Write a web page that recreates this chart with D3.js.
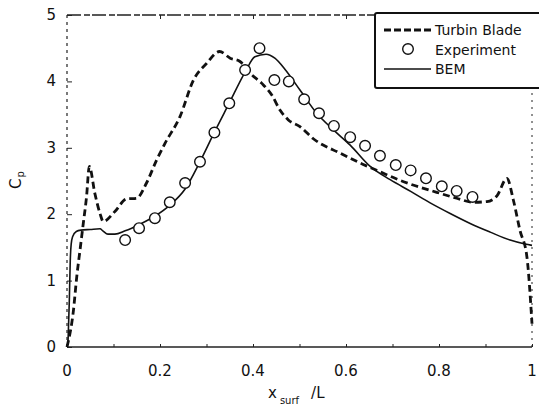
<!DOCTYPE html>
<html>
<head>
<meta charset="utf-8">
<script src="https://cdn.jsdelivr.net/npm/d3@7"></script>
<style>
  body { margin: 0; background: #fff; }
  svg { display: block; font-family: "DejaVu Sans", sans-serif; }
</style>
</head>
<body>
<svg id="chart" width="539" height="409"></svg>
<script>
// Turbin Blade (dashed)
const bladeX = [0.0, 0.014, 0.021, 0.028, 0.035, 0.042, 0.048, 0.060, 0.071, 0.078, 0.103, 0.128, 0.150, 0.171, 0.193, 0.211, 0.243, 0.272, 0.300, 0.328, 0.351, 0.372, 0.394, 0.419, 0.440, 0.458, 0.476, 0.501, 0.529, 0.587, 0.637, 0.673, 0.709, 0.744, 0.795, 0.838, 0.874, 0.903, 0.925, 0.946, 0.960, 0.974, 0.989, 1.0];
const bladeY = [0.0, 0.56, 1.06, 1.46, 1.86, 2.26, 2.72, 2.31, 2.01, 1.89, 2.04, 2.23, 2.24, 2.47, 2.82, 3.07, 3.47, 4.02, 4.27, 4.45, 4.35, 4.30, 4.12, 3.97, 3.80, 3.57, 3.42, 3.32, 3.14, 2.92, 2.75, 2.64, 2.53, 2.44, 2.33, 2.24, 2.18, 2.19, 2.28, 2.54, 2.21, 1.76, 1.36, 0.35];

// Experiment (circles)
const expX = [0.125, 0.155, 0.189, 0.221, 0.254, 0.286, 0.317, 0.349, 0.383, 0.414, 0.446, 0.477, 0.510, 0.542, 0.574, 0.609, 0.641, 0.673, 0.707, 0.739, 0.772, 0.806, 0.838, 0.872];
const expY = [1.61, 1.79, 1.94, 2.18, 2.47, 2.79, 3.23, 3.67, 4.17, 4.50, 4.02, 4.00, 3.73, 3.52, 3.33, 3.16, 3.03, 2.88, 2.74, 2.66, 2.54, 2.42, 2.35, 2.26];

// BEM (solid)
const bemX = [0.002, 0.005, 0.007, 0.009, 0.012, 0.020, 0.030, 0.050, 0.071, 0.077, 0.088, 0.103, 0.125, 0.157, 0.189, 0.222, 0.254, 0.286, 0.316, 0.348, 0.383, 0.404, 0.428, 0.447, 0.469, 0.501, 0.537, 0.573, 0.609, 0.652, 0.695, 0.740, 0.781, 0.824, 0.867, 0.910, 0.953, 0.985, 1.0];
const bemY = [0.03, 0.70, 1.30, 1.55, 1.66, 1.74, 1.76, 1.77, 1.78, 1.75, 1.70, 1.70, 1.75, 1.85, 1.97, 2.14, 2.38, 2.79, 3.22, 3.66, 4.14, 4.37, 4.41, 4.35, 4.18, 3.87, 3.52, 3.27, 3.04, 2.72, 2.52, 2.34, 2.17, 2.01, 1.86, 1.73, 1.61, 1.55, 1.53];

const xTicks = [0, 0.2, 0.4, 0.6, 0.8, 1];
const xTickLabels = ["0", "0.2", "0.4", "0.6", "0.8", "1"];
const yTicks = [0, 1, 2, 3, 4, 5];

const svg = d3.select("#chart");
const x = d3.scaleLinear().domain([0, 1]).range([67, 532]);
const y = d3.scaleLinear().domain([0, 5]).range([347, 15]);

// frame
const frame = svg.append("g").attr("stroke", "#222").attr("fill", "none");
frame.append("line").attr("x1", x(0)).attr("x2", x(1)).attr("y1", y(0)).attr("y2", y(0)).attr("stroke-width", 1.6);
frame.append("line").attr("x1", x(0)).attr("x2", x(1)).attr("y1", y(5)).attr("y2", y(5))
  .attr("stroke-width", 1.3).attr("stroke-dasharray", "14 3 6 2");
frame.append("line").attr("x1", x(0)).attr("x2", x(0)).attr("y1", y(0)).attr("y2", y(5))
  .attr("stroke-width", 1.2).attr("stroke-dasharray", "3 4");
frame.append("line").attr("x1", x(1)).attr("x2", x(1)).attr("y1", y(0)).attr("y2", y(5))
  .attr("stroke-width", 1).attr("stroke-dasharray", "2 5");

// ticks (inward)
const bottomAxis = svg.append("g").attr("transform", `translate(0,${y(0)})`)
  .call(d3.axisBottom(x).tickValues(d3.range(0, 1.01, 0.1)).tickSize(-3).tickFormat(""));
bottomAxis.select(".domain").remove();
bottomAxis.selectAll("line").attr("stroke", "#222");
const leftAxis = svg.append("g").attr("transform", `translate(${x(0)},0)`)
  .call(d3.axisLeft(y).tickValues(yTicks).tickSize(-5).tickFormat(""));
leftAxis.select(".domain").remove();
leftAxis.selectAll("line").attr("stroke", "#222");
const topAxis = svg.append("g").attr("transform", `translate(0,${y(5)})`)
  .call(d3.axisTop(x).tickValues([0.2, 0.4, 0.6, 0.8]).tickSize(-4).tickFormat(""));
topAxis.select(".domain").remove();
topAxis.selectAll("line").attr("stroke", "#222");

// tick labels
svg.append("g").selectAll("text").data(xTicks).join("text")
  .attr("x", d => x(d)).attr("y", 376)
  .attr("text-anchor", "middle").attr("font-size", 15).attr("fill", "#111")
  .text((d, i) => xTickLabels[i]);
svg.append("g").selectAll("text").data(yTicks).join("text")
  .attr("x", 56).attr("y", d => y(d) + 5)
  .attr("text-anchor", "end").attr("font-size", 15).attr("fill", "#111")
  .text(d => d);

// axis titles
const xl = svg.append("text").attr("x", 268).attr("y", 398).attr("font-size", 15).attr("fill", "#111");
xl.append("tspan").text("x");
xl.append("tspan").attr("font-size", 10).attr("dy", 6).attr("dx", 3).text("surf");
xl.append("tspan").attr("dy", -6).attr("dx", 12).text("/L");

const yl = svg.append("text").attr("transform", "translate(21,189) rotate(-90)")
  .attr("font-size", 15).attr("fill", "#111");
yl.append("tspan").text("C");
yl.append("tspan").attr("font-size", 10).attr("dy", 3).attr("dx", 1).text("p");

// series
const line = d3.line().x(d => x(d[0])).y(d => y(d[1])).curve(d3.curveMonotoneX);
svg.append("path").datum(bemX.map((v, i) => [v, bemY[i]]))
  .attr("d", line).attr("fill", "none").attr("stroke", "#111").attr("stroke-width", 1.6);
svg.append("path").datum(bladeX.map((v, i) => [v, bladeY[i]]))
  .attr("d", line).attr("fill", "none").attr("stroke", "#111").attr("stroke-width", 2.8)
  .attr("stroke-dasharray", "7 4");
svg.append("g").selectAll("circle").data(expX.map((v, i) => [v, expY[i]])).join("circle")
  .attr("cx", d => x(d[0])).attr("cy", d => y(d[1])).attr("r", 5.3)
  .attr("fill", "#fff").attr("stroke", "#111").attr("stroke-width", 1.4);

// legend
const lg = svg.append("g");
lg.append("rect").attr("x", 375).attr("y", 13).attr("width", 170).attr("height", 75).attr("rx", 2)
  .attr("fill", "#fff").attr("stroke", "#111").attr("stroke-width", 2);
lg.append("line").attr("x1", 384).attr("x2", 431).attr("y1", 30).attr("y2", 30)
  .attr("stroke", "#111").attr("stroke-width", 2.8).attr("stroke-dasharray", "7 3");
lg.append("circle").attr("cx", 408).attr("cy", 49).attr("r", 5.3)
  .attr("fill", "#fff").attr("stroke", "#111").attr("stroke-width", 1.4);
lg.append("line").attr("x1", 384).attr("x2", 431).attr("y1", 69).attr("y2", 69)
  .attr("stroke", "#111").attr("stroke-width", 1.4);
lg.selectAll("text").data(["Turbin Blade", "Experiment", "BEM"]).join("text")
  .attr("x", 435).attr("y", (d, i) => 35 + i * 19.5)
  .attr("font-size", 14).attr("fill", "#111").text(d => d);
</script>
</body>
</html>
